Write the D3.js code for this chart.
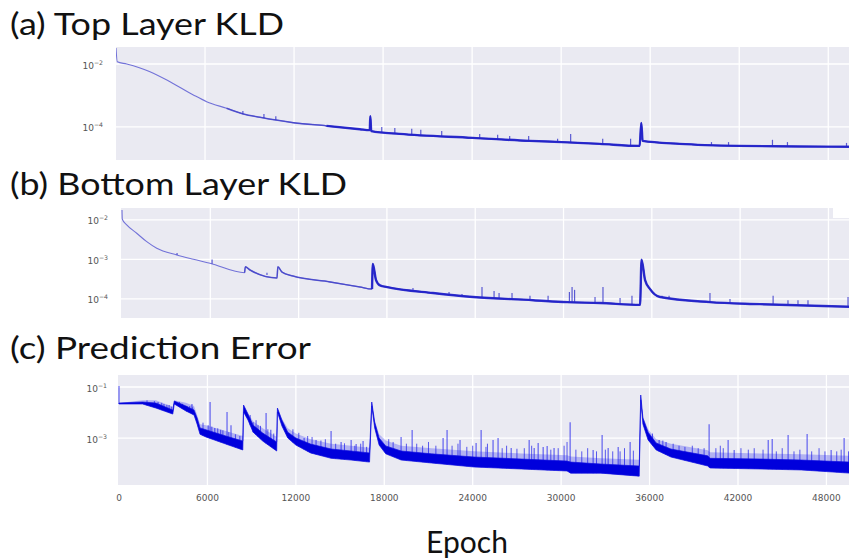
<!DOCTYPE html>
<html><head><meta charset="utf-8">
<script src="https://cdn.jsdelivr.net/npm/d3@7"></script>
<style>body{margin:0;background:#fff;} svg{display:block;}</style>
</head><body>
<svg id="chart" width="849" height="559"></svg>
<script>
// ---------------- data ----------------
const panelTitles = ["(a) Top Layer KLD", "(b) Bottom Layer KLD", "(c) Prediction Error"];
const xLabel = "Epoch";
const xTicks = [0, 6000, 12000, 18000, 24000, 30000, 36000, 42000, 48000];

// (a) Top Layer KLD
const aYTicks = [1e-2, 1e-4];
const aEpoch = [0, 87, 720, 2290, 3640, 5210, 6110, 7450, 8570, 9700, 11940, 14190, 16430, 17100, 17140, 17200, 19120, 24040, 27880, 30030, 32590, 35290, 35400, 35490, 37980, 42020, 46060, 49600];
const aValue = [0.0324, 0.0118, 0.01, 0.0057, 0.00274, 0.00104, 0.000635, 0.000392, 0.000259, 0.000203, 0.000137, 0.000108, 0.0000845, 0.000079, 0.00022, 0.000074, 0.00006, 0.000045, 0.000036, 0.000033, 0.000029, 0.000025, 0.000135, 0.000036, 0.000029, 0.000025, 0.000024, 0.0000234];
const aSpikeEpoch = [8550, 9970, 10770, 17910, 18790, 19930, 20540, 21950, 24510, 25720, 26530, 27810, 29760, 30640, 32800, 34680, 40130, 41280, 44240, 45250, 49230];
const aSpikePeak  = [0.00032, 0.00026, 0.00022, 0.0001, 0.000093, 0.000087, 0.000081, 0.000074, 0.00006, 0.000056, 0.000052, 0.000052, 0.000042, 0.00006, 0.000042, 0.000042, 0.000033, 0.000033, 0.000039, 0.000033, 0.000031];

// (b) Bottom Layer KLD
const bYTicks = [1e-2, 1e-3, 1e-4];
const bEpoch = [0, 20, 320, 1000, 1680, 2360, 3720, 4850, 5980, 8330, 8380, 8700, 10530, 10590, 10870, 11620, 14130, 16170, 16990, 17040, 17260, 17530, 18010, 21130, 23850, 27930, 30240, 32480, 35200, 35300, 35540, 35880, 36560, 39950, 43350, 49600];
const bValue = [0.0179, 0.0104, 0.00747, 0.0046, 0.00282, 0.00192, 0.0013, 0.00101, 0.0008, 0.00046, 0.00065, 0.00054, 0.00034, 0.00065, 0.00048, 0.00038, 0.00027, 0.0002, 0.000178, 0.00077, 0.0003, 0.00022, 0.0002, 0.000141, 0.000112, 0.000093, 0.000083, 0.000079, 0.000071, 0.00098, 0.0003, 0.000178, 0.000112, 0.000083, 0.000074, 0.000063];
const bSpikeEpoch = [3740, 6120, 7200, 9850, 19770, 22220, 23100, 24460, 25280, 25620, 26500, 27720, 28950, 30400, 30580, 30750, 32140, 32680, 33840, 34650, 36690, 37170, 39950, 41310, 44240, 45250, 45930, 46610, 49330];
const bSpikePeak  = [0.00145, 0.001, 0.0006, 0.00046, 0.00019, 0.000151, 0.000134, 0.0002, 0.000158, 0.000141, 0.000141, 0.00012, 0.00012, 0.00015, 0.0002, 0.00017, 0.000112, 0.0002, 0.000106, 0.00012, 0.00012, 0.00012, 0.000141, 0.0001, 0.00012, 0.000093, 0.000093, 0.000093, 0.000112];

// (c) Prediction Error : dense noisy band (lower / upper / fuzz-top envelope) + spikes
const cYTicks = [1e-1, 1e-3];
const cEpoch = [0, 1600, 2500, 3650, 3750, 4540, 5090, 5300, 5500, 5900, 7250, 8400, 8450, 8750, 9100, 9750, 10700, 10750, 11050, 11450, 12000, 13000, 14400, 15750, 17000, 17150, 17350, 17650, 18100, 19150, 21200, 24100, 27300, 30400, 30650, 32700, 35300, 35400, 35550, 35900, 36450, 37450, 39950, 40100, 43550, 46300, 49600];
const cUpper = [0.0236, 0.0258, 0.0236, 0.0125, 0.0282, 0.0180, 0.0125, 0.0061, 0.0025, 0.0021, 0.0012, 0.00076, 0.0197, 0.0087, 0.0032, 0.00157, 0.00070, 0.0150, 0.0051, 0.0017, 0.0010, 0.00058, 0.00037, 0.00031, 0.00026, 0.0258, 0.0042, 0.0010, 0.00049, 0.00031, 0.00024, 0.00018, 0.00015, 0.000125, 0.000114, 0.0000955, 0.0000798, 0.0486, 0.0061, 0.0017, 0.00064, 0.00037, 0.00020, 0.00016, 0.00015, 0.000137, 0.000114];
const cLower = [0.0216, 0.0216, 0.0150, 0.0087, 0.0216, 0.0115, 0.0080, 0.0035, 0.0014, 0.0011, 0.00058, 0.00034, 0.0105, 0.0051, 0.0017, 0.00076, 0.00031, 0.0105, 0.0030, 0.0010, 0.00053, 0.00026, 0.00016, 0.000137, 0.000114, 0.0180, 0.0025, 0.00053, 0.00024, 0.000137, 0.000105, 0.000073, 0.000061, 0.000051, 0.000042, 0.000042, 0.000032, 0.0309, 0.0035, 0.00084, 0.00034, 0.00018, 0.00008, 0.000067, 0.000061, 0.000056, 0.000042];
const cFuzz  = [0.0236, 0.030, 0.030, 0.017, 0.030, 0.024, 0.018, 0.008, 0.0035, 0.0032, 0.0019, 0.0012, 0.0197, 0.0095, 0.0045, 0.0024, 0.0011, 0.015, 0.0058, 0.0024, 0.0015, 0.0009, 0.0006, 0.0005, 0.00042, 0.0258, 0.0048, 0.0014, 0.0008, 0.0005, 0.0004, 0.0003, 0.00025, 0.00021, 0.00019, 0.00016, 0.00014, 0.0486, 0.0068, 0.0022, 0.0009, 0.0006, 0.00033, 0.00028, 0.00025, 0.00023, 0.0002];
const cSpikeEpoch = [0, 2170, 2650, 3050, 3400, 4600, 4950, 6050, 6180, 6500, 6900, 7330, 7600, 9100, 9430, 9980, 10300, 12560, 13370, 14390, 15070, 15750, 16090, 16560, 19140, 19890, 21990, 22260, 23140, 24230, 24570, 25380, 25720, 26610, 27830, 28170, 28440, 28780, 29050, 29520, 30610, 32170, 32780, 33190, 33870, 34680, 36650, 37120, 40040, 41330, 41740, 44050, 44320, 45400, 46690, 48320, 49200];
const cSpikePeak  = [0.109, 0.0197, 0.0258, 0.0216, 0.0197, 0.018, 0.0216, 0.0032, 0.0258, 0.0025, 0.0021, 0.0105, 0.0032, 0.0042, 0.0032, 0.0095, 0.0021, 0.0010, 0.00084, 0.0019, 0.00070, 0.00084, 0.00058, 0.00076, 0.00109, 0.00206, 0.0010, 0.00206, 0.00084, 0.00064, 0.00206, 0.00084, 0.0010, 0.00041, 0.00084, 0.00041, 0.00064, 0.00044, 0.00049, 0.00041, 0.0042, 0.00034, 0.0013, 0.00041, 0.00044, 0.00070, 0.00084, 0.00070, 0.0035, 0.00084, 0.00034, 0.00084, 0.00092, 0.0013, 0.00144, 0.00034, 0.0010];
// smaller noise spikes riding on the band
const cSmallEpoch = [1900, 2400, 2900, 3250, 3550, 4100, 4300, 4800, 5000, 5700, 6300, 6700, 7050, 7450, 7900, 8200, 8900, 9300, 9600, 10100, 10500, 11800, 12200, 12800, 13100, 13700, 14000, 14700, 15300, 16000, 16400, 16800, 18300, 18600, 19500, 20200, 20600, 21000, 21500, 22600, 23000, 23600, 24000, 24900, 25000, 26000, 26300, 27000, 27500, 28000, 29300, 29800, 30200, 30400, 31000, 31400, 31800, 32400, 33000, 33500, 34000, 34300, 34900, 36200, 36900, 37600, 38000, 38400, 38900, 39300, 39700, 40500, 40800, 41000, 42200, 42700, 43100, 43700, 44600, 45000, 45800, 46200, 47000, 47500, 47900, 48700, 49000, 49500];
const cSmallPeak  = [0.03, 0.028, 0.024, 0.02, 0.017, 0.026, 0.022, 0.018, 0.016, 0.004, 0.0028, 0.0024, 0.002, 0.0017, 0.0014, 0.0012, 0.008, 0.005, 0.003, 0.0022, 0.0015, 0.0022, 0.0016, 0.0012, 0.0011, 0.0008, 0.0009, 0.0006, 0.00062, 0.0005, 0.0006, 0.00045, 0.0009, 0.0007, 0.0006, 0.0006, 0.0005, 0.0007, 0.0005, 0.0005, 0.0006, 0.00045, 0.0005, 0.00045, 0.0006, 0.0004, 0.0005, 0.00038, 0.0004, 0.0005, 0.00035, 0.0004, 0.0005, 0.0007, 0.00035, 0.0003, 0.0004, 0.0003, 0.00035, 0.0003, 0.0003, 0.0004, 0.00032, 0.0015, 0.0008, 0.0006, 0.0005, 0.00045, 0.0005, 0.0004, 0.0004, 0.0004, 0.0005, 0.0004, 0.0004, 0.00035, 0.0004, 0.00035, 0.0003, 0.0004, 0.0003, 0.00035, 0.0003, 0.0004, 0.0003, 0.0003, 0.00035, 0.0003];

// ---------------- layout ----------------
const svg = d3.select("#chart");
const RIGHT = 849;
const panels = [
  {title: panelTitles[0], titleY: 35, titleLen: 274, top: 47, bottom: 160, left: 116, xr: [116, 852],
   ydom: [8.9e-6, 0.0347], yticks: aYTicks, labelX: 103,
   trendE: aEpoch, trendV: aValue, midFrom: 7450, thickFrom: 14190, spE: aSpikeEpoch, spV: aSpikePeak},
  {title: panelTitles[1], titleY: 195, titleLen: 337, top: 208, bottom: 318, left: 121, xr: [122, 852],
   ydom: [3.3e-5, 0.02], yticks: bYTicks, labelX: 108,
   trendE: bEpoch, trendV: bValue, midFrom: 8330, thickFrom: 16990, spE: bSpikeEpoch, spV: bSpikePeak},
  {title: panelTitles[2], titleY: 359, titleLen: 301, top: 375, bottom: 485, left: 118, xr: [119, 850],
   ydom: [1.44e-5, 0.296], yticks: cYTicks, labelX: 107,
   bandE: cEpoch, bandU: cUpper, bandL: cLower, bandF: cFuzz, spE: cSpikeEpoch, spV: cSpikePeak,
   smE: cSmallEpoch, smV: cSmallPeak, xaxis: true}
];

function logInterp(es, vs, e) {
  const i = d3.bisectRight(es, e);
  if (i <= 0) return vs[0];
  if (i >= es.length) return vs[vs.length - 1];
  const t = (e - es[i-1]) / (es[i] - es[i-1]);
  return Math.exp(Math.log(vs[i-1]) * (1 - t) + Math.log(vs[i]) * t);
}

panels.forEach((p, pi) => {
  const g = svg.append("g");
  const x = d3.scaleLinear().domain([0, 49600]).range(p.xr);
  const y = d3.scaleLog().domain(p.ydom).range([p.bottom, p.top]);

  // title
  svg.append("text").attr("x", 10).attr("y", p.titleY)
    .attr("font-family", "Lato, 'Open Sans', sans-serif").attr("font-size", 30)
    .attr("textLength", p.titleLen).attr("lengthAdjust", "spacingAndGlyphs")
    .attr("fill", "#111").text(p.title);

  // background
  g.append("rect").attr("x", p.left).attr("y", p.top)
    .attr("width", RIGHT - p.left).attr("height", p.bottom - p.top).attr("fill", "#eaeaf2");
  const clipId = "clip" + pi;
  svg.append("clipPath").attr("id", clipId).append("rect")
    .attr("x", p.left).attr("y", p.top).attr("width", RIGHT - p.left).attr("height", p.bottom - p.top);

  // grid
  g.selectAll(".vg").data(xTicks.filter(d => d > 0)).join("line")
    .attr("x1", d => x(d)).attr("x2", d => x(d)).attr("y1", p.top).attr("y2", p.bottom)
    .attr("stroke", "#fff").attr("stroke-width", 1.3);
  g.selectAll(".hg").data(p.yticks).join("line")
    .attr("x1", p.left).attr("x2", RIGHT).attr("y1", d => y(d)).attr("y2", d => y(d))
    .attr("stroke", "#fff").attr("stroke-width", 1.3);

  // y tick labels
  p.yticks.forEach(t => {
    const ex = Math.round(Math.log10(t));
    const tx = svg.append("text").attr("x", p.labelX).attr("y", y(t) + 4.5)
      .attr("text-anchor", "end").attr("font-family", "'DejaVu Sans', sans-serif")
      .attr("font-size", 9).attr("fill", "#555");
    tx.append("tspan").text("10");
    tx.append("tspan").attr("dy", -4).attr("font-size", 6.2).text("−" + Math.abs(ex));
  });

  const plot = g.append("g").attr("clip-path", `url(#${clipId})`);

  if (p.trendE) {
    const pts = p.trendE.map((e, i) => [e, p.trendV[i]]);
    const line = d3.line().x(d => x(d[0])).y(d => y(d[1])).curve(d3.curveMonotoneX);
    plot.append("path").attr("d", line(pts)).attr("fill", "none")
      .attr("stroke", "#7272d8").attr("stroke-width", 1.1);
    plot.append("path").attr("d", line(pts.filter(d => d[0] >= p.midFrom))).attr("fill", "none")
      .attr("stroke", "#4040c8").attr("stroke-opacity", 0.8).attr("stroke-width", 1.5);
    plot.append("path").attr("d", line(pts.filter(d => d[0] >= p.thickFrom))).attr("fill", "none")
      .attr("stroke", "#1c1cc8").attr("stroke-opacity", 0.85).attr("stroke-width", 2.4);
    p.spE.forEach((e, i) => {
      const base = logInterp(p.trendE, p.trendV, e);
      plot.append("line").attr("x1", x(e)).attr("x2", x(e)).attr("y1", y(base)).attr("y2", y(p.spV[i]))
        .attr("stroke", "#2a2ac8").attr("stroke-opacity", 0.75).attr("stroke-width", 1.2);
    });
  }
  if (p.bandE) {
    const pts = p.bandE.map((e, i) => [e, p.bandU[i], p.bandL[i], p.bandF[i]]);
    const fuzz = d3.area().x(d => x(d[0])).y0(d => y(d[2])).y1(d => y(d[3]));
    plot.append("path").attr("d", fuzz(pts)).attr("fill", "#4a4af0").attr("fill-opacity", 0.35);
    p.smE.forEach((e, i) => {
      const base = logInterp(p.bandE, p.bandL, e);
      plot.append("line").attr("x1", x(e)).attr("x2", x(e)).attr("y1", y(base)).attr("y2", y(p.smV[i]))
        .attr("stroke", "#1a1aea").attr("stroke-opacity", 0.7).attr("stroke-width", 1);
    });
    p.spE.forEach((e, i) => {
      const base = logInterp(p.bandE, p.bandL, e);
      plot.append("line").attr("x1", x(e)).attr("x2", x(e)).attr("y1", y(base)).attr("y2", y(p.spV[i]))
        .attr("stroke", "#2222ee").attr("stroke-opacity", 0.75).attr("stroke-width", 1.1);
    });
    const area = d3.area().x(d => x(d[0])).y0(d => y(d[2])).y1(d => y(d[1]));
    plot.append("path").attr("d", area(pts)).attr("fill", "#0000dc")
      .attr("stroke", "#1010e0").attr("stroke-width", 0.7);
  }

  if (p.xaxis) {
    svg.selectAll(".xl").data(xTicks).join("text")
      .attr("x", d => x(d)).attr("y", 501).attr("text-anchor", "middle")
      .attr("font-family", "'DejaVu Sans', sans-serif").attr("font-size", 9)
      .attr("fill", "#555").text(d => d);
  }
});

// artifact patch in panel (b)
svg.append("rect").attr("x", 833).attr("y", 208).attr("width", 16).attr("height", 10).attr("fill", "#fff");

svg.append("text").attr("x", 467).attr("y", 553).attr("text-anchor", "middle")
  .attr("font-family", "Lato, 'Open Sans', sans-serif").attr("font-size", 30)
  .attr("fill", "#111").text(xLabel);
</script>
</body></html>
